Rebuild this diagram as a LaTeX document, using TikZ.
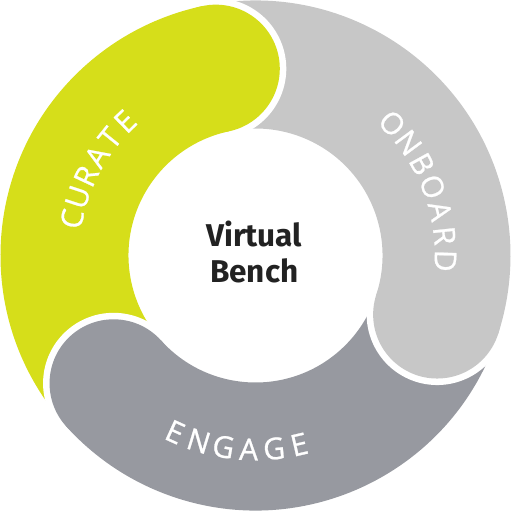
\documentclass[tikz,border=0pt]{standalone}
\usepackage{fontspec}
\setmainfont{Open Sans}
\newfontfamily\lblfont{Open Sans}[FakeBold=0.8]
\newfontfamily\benchfont{Fira Sans}
\definecolor{curcol}{RGB}{214,222,26}
\definecolor{oncol}{RGB}{199,199,199}
\definecolor{engcol}{RGB}{151,153,160}
\definecolor{txtdark}{RGB}{34,34,34}
\begin{document}
\begin{tikzpicture}[x=1pt,y=1pt,
  lbl/.style={text=white, inner sep=0pt, font=\lblfont\fontsize{30}{36}\selectfont},
  ctr/.style={text=txtdark, inner sep=0pt, anchor=base, font=\benchfont\bfseries\fontsize{31.5}{36}\selectfont}]
\useasboundingbox (-255.5,-255.5) rectangle (255.5,255.5);
\def\Ri{127}\def\Ro{255}\def\Rm{191}\def\cr{64}
% bands: from previous cap angle to own cap angle, clockwise
\foreach \a/\b/\c in {222/102/curcol, 102/-18/oncol, 342/222/engcol}{
  \fill[\c] (\a:\Ro) arc[start angle=\a, end angle=\b, radius=\Ro]
     -- (\b:\Ri) arc[start angle=\b, end angle=\a, radius=\Ri] -- cycle;
}
% white gaps round the caps
\foreach \b in {102,-18,222}{
  \draw[white, line width=13pt] (\b:\Ro) arc[start angle=\b, end angle=\b-180, radius=\cr];
}
% caps
\foreach \b/\c in {102/curcol,-18/oncol,222/engcol}{
  \fill[\c] (\b:\Rm) circle[radius=\cr];
}
% labels
\foreach \a/\l [count=\i] in {168.7/C,161.8/U,154.9/R,148/A,141.1/T,134.2/E}{
  \node[lbl, rotate=\a-90] (cu\i) at (\a:187) {\l};
}
\foreach \a/\l [count=\i] in {44/O,36.4/N,28.8/B,21.2/O,13.6/A,6/R,-1.6/D}{
  \node[lbl, rotate=\a-90] (on\i) at (\a:190) {\l};
}
\foreach \a/\l [count=\i] in {245.5/E,253/N,260.5/G,268/A,275.5/G,283/E}{
  \node[lbl, rotate=\a+90] (en\i) at (\a:194) {\l};
}
\node[ctr] (v) at (-1.3,8.8) {Virtual};
\node[ctr] (b) at (-1.3,-27.5) {Bench};
\end{tikzpicture}
\end{document}
